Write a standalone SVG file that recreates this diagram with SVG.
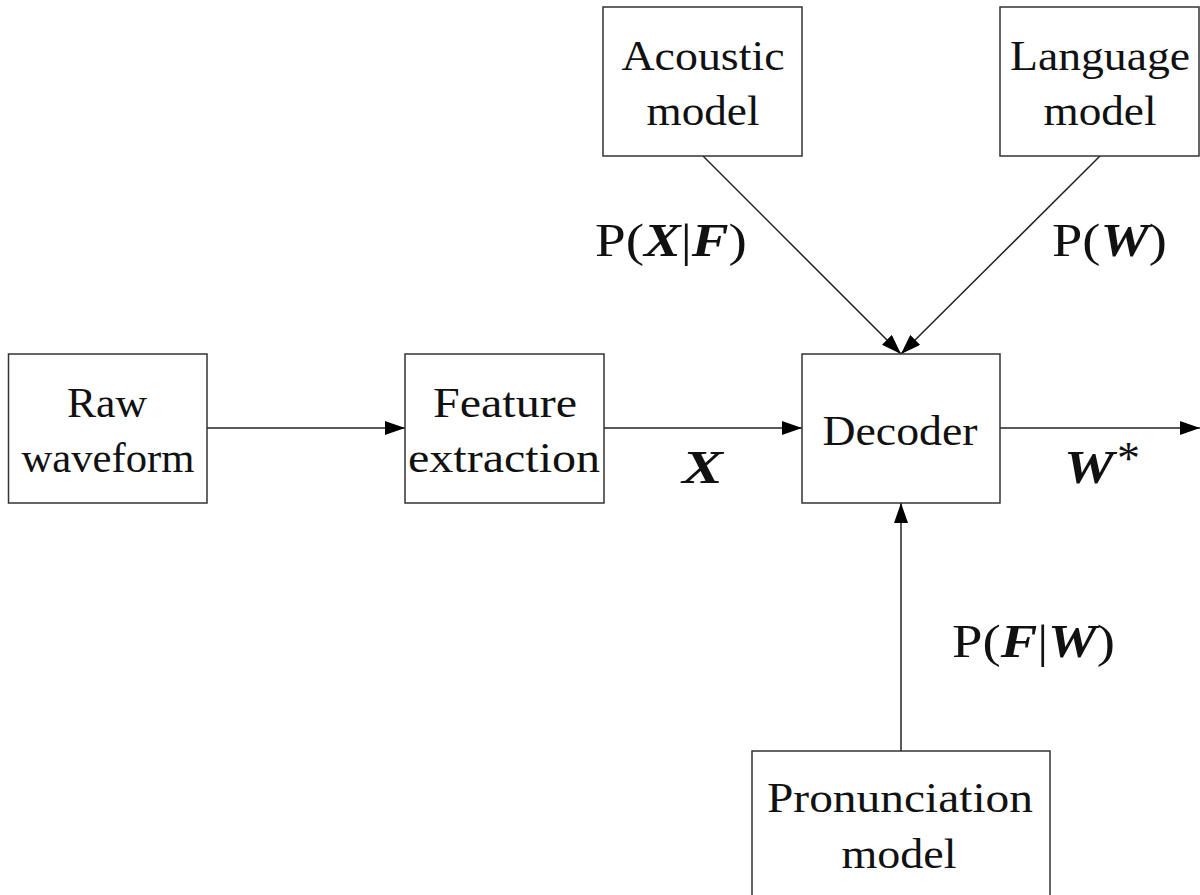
<svg xmlns="http://www.w3.org/2000/svg" width="1200" height="895" viewBox="0 0 1200 895">
  <style>
    .box { fill: #ffffff; stroke: #333333; stroke-width: 1.5; }
    .lbl { font-family: "Liberation Serif", "DejaVu Serif", serif; font-size: 42px; fill: #111111; text-anchor: middle; }
    .math { font-family: "Liberation Serif", "DejaVu Serif", serif; font-size: 46px; fill: #111111; }
    .bi { font-weight: bold; font-style: italic; }
    .edge { fill: none; stroke: #222222; stroke-width: 1.5; marker-end: url(#head); }
  </style>
  <defs>
    <marker id="head" viewBox="0 0 20 14" refX="20" refY="7" markerWidth="20" markerHeight="14" markerUnits="userSpaceOnUse" orient="auto">
      <path d="M0,0 L20,7 L0,14 Z" fill="#000000"/>
    </marker>
  </defs>
  <rect width="1200" height="895" fill="#ffffff"/>

  <g id="connectors">
    <line class="edge" x1="207" y1="428" x2="405" y2="428"/>
    <line class="edge" x1="604" y1="428" x2="802" y2="428"/>
    <line class="edge" x1="1000" y1="428" x2="1200" y2="428"/>
    <line class="edge" x1="703" y1="156" x2="901" y2="354"/>
    <line class="edge" x1="1100" y1="156" x2="901" y2="354"/>
    <line class="edge" x1="901" y1="751" x2="901" y2="503"/>
  </g>

  <g id="raw-waveform">
    <rect class="box" x="8.5" y="354" width="198.5" height="149"/>
    <text class="lbl" x="107" y="417" textLength="80" lengthAdjust="spacingAndGlyphs">Raw</text>
    <text class="lbl" x="108" y="472" textLength="173" lengthAdjust="spacingAndGlyphs">waveform</text>
  </g>

  <g id="feature-extraction">
    <rect class="box" x="405" y="354" width="199" height="149"/>
    <text class="lbl" x="505" y="417" textLength="144" lengthAdjust="spacingAndGlyphs">Feature</text>
    <text class="lbl" x="504" y="472" textLength="192" lengthAdjust="spacingAndGlyphs">extraction</text>
  </g>

  <g id="decoder">
    <rect class="box" x="802" y="354" width="198" height="149"/>
    <text class="lbl" x="900" y="445" textLength="155" lengthAdjust="spacingAndGlyphs">Decoder</text>
  </g>

  <g id="acoustic-model">
    <rect class="box" x="603" y="7" width="199" height="149"/>
    <text class="lbl" x="703" y="70" textLength="163" lengthAdjust="spacingAndGlyphs">Acoustic</text>
    <text class="lbl" x="703" y="125" textLength="113" lengthAdjust="spacingAndGlyphs">model</text>
  </g>

  <g id="language-model">
    <rect class="box" x="1000" y="7" width="199" height="149"/>
    <text class="lbl" x="1100" y="70" textLength="180" lengthAdjust="spacingAndGlyphs">Language</text>
    <text class="lbl" x="1100" y="125" textLength="113" lengthAdjust="spacingAndGlyphs">model</text>
  </g>

  <g id="pronunciation-model">
    <rect class="box" x="752" y="751" width="298" height="160"/>
    <text class="lbl" x="900" y="812" textLength="266" lengthAdjust="spacingAndGlyphs">Pronunciation</text>
    <text class="lbl" x="899" y="868" textLength="115" lengthAdjust="spacingAndGlyphs">model</text>
  </g>

  <g id="edge-labels">
    <text class="math" x="595" y="256" textLength="152" lengthAdjust="spacingAndGlyphs">P(<tspan class="bi">X</tspan>|<tspan class="bi">F</tspan>)</text>
    <text class="math" x="1052" y="256" textLength="115" lengthAdjust="spacingAndGlyphs">P(<tspan class="bi">W</tspan>)</text>
    <text class="math" x="952" y="657" textLength="163" lengthAdjust="spacingAndGlyphs">P(<tspan class="bi">F</tspan>|<tspan class="bi">W</tspan>)</text>
    <text class="math bi" x="682" y="483" textLength="41" lengthAdjust="spacingAndGlyphs">X</text>
    <text class="math bi" x="1064" y="483" textLength="50" lengthAdjust="spacingAndGlyphs">W</text>
    <text class="math" x="1117" y="474" font-size="28">*</text>
  </g>
</svg>
